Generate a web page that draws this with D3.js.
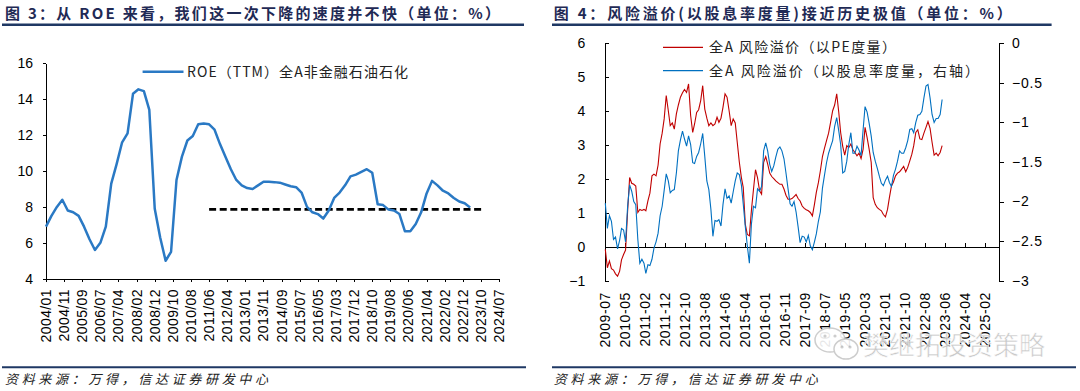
<!DOCTYPE html>
<html lang="zh">
<head>
<meta charset="UTF-8">
<title>ROE 与风险溢价</title>
<style>
    body { margin: 0; background: #fff; }
    svg { display: block; }
    .num { font-family: "Liberation Sans", Arial, sans-serif; font-size: 14px; fill: #000; }
    .cjk { font-family: "Noto Sans CJK SC", "Liberation Sans", sans-serif; }
    .axis path, .axis line { stroke: #000; stroke-width: 1; shape-rendering: crispEdges; }
</style>
<script src="https://d3js.org/d3.v7.min.js"></script>
</head>
<body>
<svg id="canvas" width="1080" height="391"></svg>
<script>
// ---------- data: 图3 ROE (TTM), quarterly, first point at axis start ----------
const roeStart = "2004-01-15";
const roeValues = [6.9, 7.5, 8.0, 8.4, 7.8, 7.7, 7.5, 6.9, 6.2, 5.6,
    6.0, 6.9, 9.3, 10.4, 11.6, 12.1, 14.3, 14.55, 14.45, 13.4,
    7.9, 6.3, 5.0, 5.5, 9.5, 10.8, 11.7, 11.95, 12.6, 12.65,
    12.6, 12.3, 11.5, 10.8, 10.1, 9.5, 9.2, 9.05, 9.0, 9.2,
    9.4, 9.4, 9.38, 9.35, 9.25, 9.15, 9.1, 8.8, 8.0, 7.7,
    7.6, 7.35, 7.8, 8.5, 8.8, 9.2, 9.7, 9.8, 9.95, 10.1,
    9.9, 8.15, 8.1, 7.85, 7.8, 7.6, 6.65, 6.65, 7.05, 7.7,
    8.75, 9.45, 9.2, 8.9, 8.75, 8.5, 8.3, 8.2, 7.97];
const roeRef = { from: "2011-06-07", to: "2023-11-30", value: 7.86 };
const roeTicks = ["2004/01", "2004/11", "2005/09", "2006/07", "2007/04", "2008/02", "2008/12",
    "2009/10", "2010/08", "2011/06", "2012/04", "2013/01", "2013/11", "2014/09", "2015/07",
    "2016/05", "2017/03", "2017/12", "2018/10", "2019/08", "2020/06", "2021/04", "2022/02",
    "2022/12", "2023/10", "2024/07"];
const roeYTicks = [4, 6, 8, 10, 12, 14, 16];

// ---------- data: 图4 风险溢价, monthly ----------
const rpStart = "2009-07-05";
const rpPE = [-0.08, -0.62, -0.42, -0.65, -0.69, -0.80, -0.87, -0.72, -0.39, -0.23,
    -0.10, 1.06, 2.04, 1.87, 1.84, 1.79, 1.01, 1.10, 1.07, 1.10,
    1.06, 1.35, 1.58, 2.09, 2.14, 2.09, 2.41, 3.03, 3.35, 3.77,
    4.46, 4.01, 3.57, 3.65, 3.47, 3.92, 4.18, 4.41, 4.54, 4.64,
    4.55, 4.80, 3.87, 3.37, 3.62, 3.96, 4.04, 4.31, 4.75, 4.06,
    3.79, 3.57, 3.65, 3.57, 3.62, 3.82, 3.67, 3.79, 4.11, 4.51,
    4.41, 4.01, 3.57, 3.77, 3.65, 3.08, 2.50, 2.04, 1.75, 0.66,
    0.36, 0.32, 1.06, 1.68, 2.27, 2.04, 1.65, 1.55, 2.49, 2.66,
    2.44, 2.17, 2.07, 2.01, 1.94, 1.89, 1.84, 1.84, 1.70, 1.52,
    1.40, 1.40, 1.42, 1.48, 1.54, 1.42, 1.35, 1.20, 1.13, 1.09,
    1.06, 1.01, 0.91, 1.25, 1.60, 1.89, 2.24, 2.66, 2.90, 3.13,
    3.35, 3.67, 4.01, 4.18, 4.51, 3.96, 3.37, 2.96, 2.70, 2.98,
    2.92, 3.03, 2.86, 2.78, 2.68, 2.76, 2.60, 2.88, 3.52, 3.22,
    2.88, 2.49, 1.45, 1.25, 1.15, 1.10, 1.06, 0.95, 0.88, 1.10,
    1.45, 1.79, 1.91, 2.09, 2.17, 2.21, 2.29, 2.37, 2.21, 2.34,
    2.53, 2.73, 2.98, 3.37, 3.45, 3.18, 3.16, 3.35, 3.52, 3.69,
    3.49, 3.08, 2.70, 2.76, 2.68, 2.78, 2.98];
const rpDiv = [-2.02, -2.34, -2.18, -2.25, -2.48, -2.45, -2.60, -2.49, -2.34, -2.36,
    -2.51, -2.06, -1.79, -1.87, -2.00, -2.04, -2.48, -2.78, -2.73, -2.78,
    -2.91, -2.80, -2.81, -2.73, -2.59, -2.51, -2.40, -2.18, -2.06, -1.86,
    -1.65, -1.74, -1.89, -1.86, -1.85, -1.64, -1.36, -1.22, -1.11, -1.21,
    -1.30, -1.17, -1.28, -1.51, -1.52, -1.43, -1.38, -1.27, -1.14, -1.43,
    -1.74, -1.85, -2.10, -2.44, -2.24, -2.25, -2.23, -2.31, -2.04, -1.84,
    -1.96, -1.93, -2.02, -1.88, -1.74, -1.64, -1.66, -1.79, -2.03, -2.32,
    -2.56, -2.78, -2.29, -2.06, -2.08, -1.84, -1.87, -1.81, -1.36, -1.26,
    -1.36, -1.53, -1.62, -1.55, -1.44, -1.34, -1.31, -1.36, -1.46, -1.64,
    -1.84, -2.03, -2.06, -2.00, -2.13, -2.32, -2.52, -2.44, -2.45, -2.51,
    -2.43, -2.56, -2.61, -2.51, -2.41, -2.25, -2.13, -1.83, -1.67, -1.51,
    -1.39, -1.31, -1.23, -1.05, -0.94, -1.11, -1.28, -1.64, -1.62, -1.49,
    -1.28, -1.13, -1.39, -1.39, -1.30, -1.35, -1.42, -1.09, -0.80, -0.87,
    -1.01, -1.17, -1.38, -1.49, -1.58, -1.68, -1.77, -1.80, -1.73, -1.68,
    -1.76, -1.81, -1.67, -1.59, -1.49, -1.36, -1.39, -1.39, -1.32, -1.23,
    -1.09, -1.08, -1.13, -1.00, -0.91, -0.90, -0.86, -0.69, -0.54, -0.52,
    -0.69, -0.90, -1.00, -0.95, -0.95, -0.90, -0.71];
const rpTicks = ["2009-07", "2010-05", "2011-02", "2011-12", "2012-10", "2013-08", "2014-06",
    "2015-04", "2016-01", "2016-11", "2017-09", "2018-07", "2019-05", "2020-03", "2021-01",
    "2021-10", "2022-08", "2023-06", "2024-04", "2025-02"];
const rpLeftTicks = [-1, 0, 1, 2, 3, 4, 5, 6];
const rpRightTicks = [-3, -2.5, -2, -1.5, -1, -0.5, 0];

const svg = d3.select("#canvas");
const parse = d3.timeParse("%Y-%m-%d");
const navy = "#1f3864";

// ---------- shared panel decoration ----------
function panelFrame(p) {
    svg.append("text").attr("class", "cjk")
        .attr("x", p.titleX).attr("y", 19)
        .attr("font-size", 15).attr("font-weight", "bold").attr("fill", "#1f2a55")
        .attr("textLength", p.titleW).attr("lengthAdjust", "spacing")
        .text(p.title);
    svg.append("line")
        .attr("x1", p.topRule[0]).attr("x2", p.topRule[1])
        .attr("y1", 24.7).attr("y2", 24.7)
        .attr("stroke", navy).attr("stroke-width", 2.4);
    svg.append("line")
        .attr("x1", p.bottomRule[0]).attr("x2", p.bottomRule[1])
        .attr("y1", 367.3).attr("y2", 367.3)
        .attr("stroke", navy).attr("stroke-width", 2);
    svg.append("text").attr("class", "cjk")
        .attr("x", p.titleX).attr("y", 384)
        .attr("font-size", 13).attr("font-style", "italic").attr("fill", "#222")
        .attr("textLength", p.sourceW).attr("lengthAdjust", "spacing")
        .text("资料来源：万得，信达证券研发中心");
}

function rotatedLabels(g, scale, dates, labels, top, spacing) {
    g.selectAll("text.tl").data(dates).join("text")
        .attr("class", "num tl")
        .attr("transform", d => `translate(${scale(d)},${top}) rotate(-90)`)
        .attr("text-anchor", "end")
        .attr("dy", "0.35em")
        .attr("letter-spacing", spacing)
        .text((d, i) => labels[i]);
}

// ================= 图3 =================
panelFrame({
    titleX: 5, titleW: 495, topRule: [2, 524], bottomRule: [2, 526], sourceW: 263,
    title: "图 3：从 ROE 来看，我们这一次下降的速度并不快（单位：%）"
});

const l0 = parse(roeStart);
const lx = d3.scaleTime()
    .domain([l0, d3.timeDay.offset(l0, 300 * (roeTicks.length - 1))])
    .range([46, 499.1]);
const ly = d3.scaleLinear().domain([4, 16]).range([278.7, 63.3]);
const roeTickDates = roeTicks.map((t, i) => d3.timeDay.offset(l0, 300 * i));
const roeData = roeValues.map((v, i) => ({ date: d3.timeDay.offset(l0, 90 * i), value: v }));

const gl = svg.append("g");
gl.append("g").attr("class", "axis")
    .attr("transform", `translate(46,0)`)
    .call(d3.axisLeft(ly).tickValues(roeYTicks).tickSize(3).tickSizeOuter(0).tickPadding(10))
    .call(g => g.selectAll("text").attr("class", "num"));
gl.append("g").attr("class", "axis")
    .attr("transform", `translate(0,${ly(4)})`)
    .call(d3.axisBottom(lx).tickValues(roeTickDates).tickSize(3).tickSizeOuter(0).tickFormat(""));
rotatedLabels(gl, lx, roeTickDates, roeTicks, 289, 0.4);

gl.append("line")
    .attr("x1", lx(parse(roeRef.from))).attr("x2", lx(parse(roeRef.to)))
    .attr("y1", ly(roeRef.value)).attr("y2", ly(roeRef.value))
    .attr("stroke", "#000").attr("stroke-width", 2.6).attr("stroke-dasharray", "7,3.6");

gl.append("path").datum(roeData)
    .attr("fill", "none").attr("stroke", "#2a79c4").attr("stroke-width", 2.5)
    .attr("stroke-linejoin", "round")
    .attr("d", d3.line().x(d => lx(d.date)).y(d => ly(d.value)));

gl.append("line").attr("x1", 142.6).attr("x2", 183.5).attr("y1", 71.7).attr("y2", 71.7)
    .attr("stroke", "#2a79c4").attr("stroke-width", 2.5);
gl.append("text").attr("class", "cjk").attr("x", 187).attr("y", 76.5)
    .attr("font-size", 14).attr("fill", "#222")
    .attr("textLength", 221).attr("lengthAdjust", "spacing")
    .text("ROE（TTM）全A非金融石油石化");

// ================= 图4 =================
panelFrame({
    titleX: 553.8, titleW: 458, topRule: [552, 1051.6], bottomRule: [552, 1076], sourceW: 264,
    title: "图 4：风险溢价(以股息率度量)接近历史极值（单位：%）"
});

const r0 = parse(rpStart);
const rx = d3.scaleTime()
    .domain([r0, d3.timeDay.offset(r0, 5905)])
    .range([605.3, 999]);
const ryL = d3.scaleLinear().domain([-1, 6]).range([280.6, 43.3]);
const ryR = d3.scaleLinear().domain([-3, 0]).range([280.6, 43.3]);
const rpTickDates = rpTicks.map((t, i) => d3.timeDay.offset(r0, 300 * i));
const rpDates = rpPE.map((v, i) => d3.timeMonth.offset(r0, i));

const gr = svg.append("g");
gr.append("g").attr("class", "axis")
    .attr("transform", "translate(605.3,0)")
    .call(d3.axisLeft(ryL).tickValues(rpLeftTicks).tickSize(-4).tickSizeOuter(0).tickPadding(20)
        .tickFormat(d3.format("d")))
    .call(g => g.selectAll("text").attr("class", "num"));
gr.append("g").attr("class", "axis")
    .attr("transform", "translate(999,0)")
    .call(d3.axisRight(ryR).tickValues(rpRightTicks).tickSize(5).tickSizeOuter(0).tickPadding(8)
        .tickFormat(d3.format("~g")))
    .call(g => g.selectAll("text").attr("class", "num").attr("letter-spacing", 0.8));
gr.append("g").attr("class", "axis")
    .attr("transform", `translate(0,${ryL(0)})`)
    .call(d3.axisBottom(rx).tickValues(rpTickDates).tickSize(-4).tickSizeOuter(0).tickFormat(""));
rotatedLabels(gr, rx, rpTickDates, rpTicks, 292, 0.6);

gr.append("path").datum(rpPE)
    .attr("fill", "none").attr("stroke", "#c00000").attr("stroke-width", 1.1)
    .attr("d", d3.line().x((d, i) => rx(rpDates[i])).y(d => ryL(d)));
gr.append("path").datum(rpDiv)
    .attr("fill", "none").attr("stroke", "#0070c0").attr("stroke-width", 1.1)
    .attr("d", d3.line().x((d, i) => rx(rpDates[i])).y(d => ryR(d)));

const rpLegend = [
    { label: "全A 风险溢价（以PE度量）", color: "#c00000", y: 47.3, w: 187 },
    { label: "全A 风险溢价（以股息率度量，右轴）", color: "#0070c0", y: 70.7, w: 270 }
];
rpLegend.forEach(d => {
    gr.append("line").attr("x1", 663).attr("x2", 703).attr("y1", d.y).attr("y2", d.y)
        .attr("stroke", d.color).attr("stroke-width", 1.2);
    gr.append("text").attr("class", "cjk").attr("x", 709).attr("y", d.y + 5)
        .attr("font-size", 14).attr("fill", "#222")
        .attr("textLength", d.w).attr("lengthAdjust", "spacing")
        .text(d.label);
});

// watermark (公众号 icon + name)
const wm = svg.append("g").attr("opacity", 0.9);
wm.append("ellipse").attr("cx", 830).attr("cy", 340).attr("rx", 15).attr("ry", 12)
    .attr("fill", "#fff").attr("stroke", "#c8c8c8").attr("stroke-width", 1.5);
wm.append("ellipse").attr("cx", 846).attr("cy", 349).attr("rx", 12).attr("ry", 10)
    .attr("fill", "#fff").attr("stroke", "#c8c8c8").attr("stroke-width", 1.5);
[[825, 336], [835, 336], [842, 347], [850, 347]].forEach(p => {
    wm.append("circle").attr("cx", p[0]).attr("cy", p[1]).attr("r", 1.6).attr("fill", "#c8c8c8");
});
wm.append("text").attr("class", "cjk").attr("x", 863).attr("y", 355)
    .attr("font-size", 26).attr("fill", "#c4c4c4")
    .attr("stroke", "#fff").attr("stroke-width", 0.6)
    .attr("textLength", 182).attr("lengthAdjust", "spacing")
    .text("樊继拓投资策略");
</script>
</body>
</html>
